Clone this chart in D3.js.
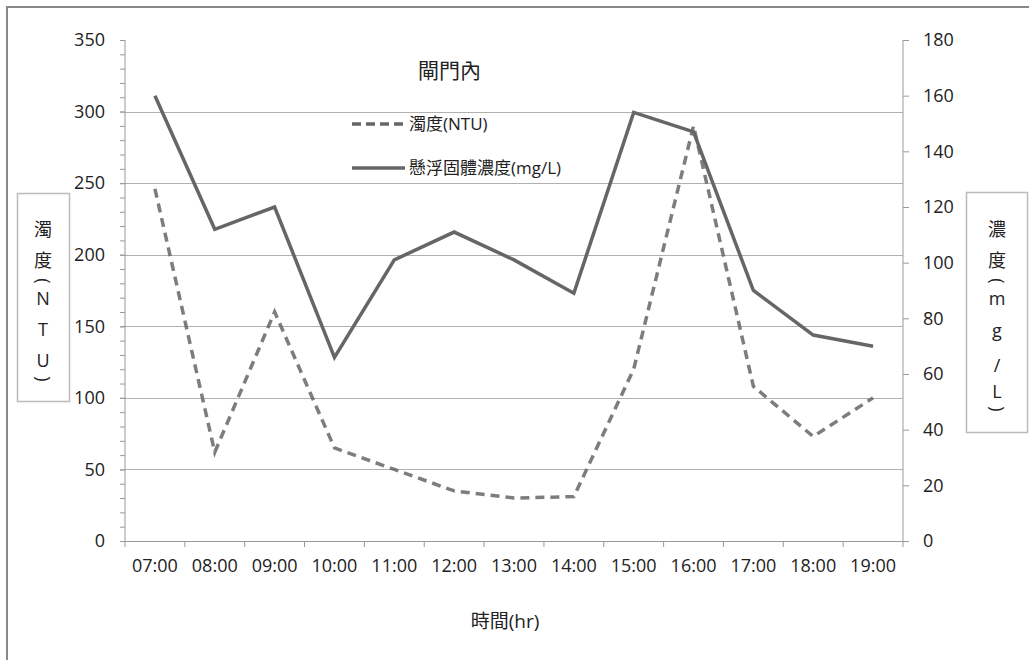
<!DOCTYPE html>
<html>
<head>
<meta charset="utf-8">
<script src="https://cdn.jsdelivr.net/npm/d3@7"></script>
<style>
  body { margin: 0; background: #fff; }
  text { font-family: "Open Sans", "Noto Sans CJK TC", sans-serif; fill: #222; }
</style>
</head>
<body>
<div id="chart"></div>
<script>
// hours along the x axis
const hours = ["07:00", "08:00", "09:00", "10:00", "11:00", "12:00", "13:00",
  "14:00", "15:00", "16:00", "17:00", "18:00", "19:00"];
// turbidity (NTU), left axis
const turbidity = [246, 62, 160, 65, 50, 35, 30, 31, 120, 290, 108, 73, 100];
// suspended solids (mg/L), right axis
const solids = [160, 112, 120, 66, 101, 111, 101, 89, 154, 147, 90, 74, 70];
const leftTicks = [0, 50, 100, 150, 200, 250, 300, 350];
const rightTicks = [0, 20, 40, 60, 80, 100, 120, 140, 160, 180];

const width = 1029, height = 660;
const plot = { left: 125, right: 903, top: 40, bottom: 541 };
const lineColor = "#666";

const svg = d3.select("#chart").append("svg")
  .attr("width", width).attr("height", height);

// outer frame (top + left edges visible)
svg.append("path")
  .attr("d", `M7,${height} V7 H${width}`)
  .attr("fill", "none").attr("stroke", "#888").attr("stroke-width", 2);

const x = d3.scaleBand().domain(hours).range([plot.left, plot.right]).padding(0);
const yL = d3.scaleLinear().domain([0, 350]).range([plot.bottom, plot.top]);
const yR = d3.scaleLinear().domain([0, 180]).range([plot.bottom, plot.top]);

// gridlines
svg.append("g").selectAll("line")
  .data(leftTicks.filter(d => d > 0 && d < 350))
  .join("line")
  .attr("x1", plot.left).attr("x2", plot.right)
  .attr("y1", d => Math.round(yL(d)) + 0.5).attr("y2", d => Math.round(yL(d)) + 0.5)
  .attr("stroke", "#b0b0b0");

// left axis with minor ticks
const gLeft = svg.append("g").attr("transform", `translate(${plot.left},0)`);
gLeft.call(d3.axisLeft(yL).tickValues(d3.range(0, 351, 10)).tickSize(5).tickFormat(""));
gLeft.append("g").call(d3.axisLeft(yL).tickValues(leftTicks).tickSize(5).tickPadding(15));
gLeft.selectAll(".domain").remove();
gLeft.append("line").attr("y1", plot.top).attr("y2", plot.bottom).attr("stroke", "#999");
gLeft.selectAll("line").attr("stroke", "#999");
gLeft.selectAll("text").attr("font-size", 18).attr("fill", "#222");

// right axis
const gRight = svg.append("g").attr("transform", `translate(${plot.right},0)`);
gRight.call(d3.axisRight(yR).tickValues(rightTicks).tickSize(6).tickPadding(14));
gRight.select(".domain").remove();
gRight.append("line").attr("y1", plot.top).attr("y2", plot.bottom).attr("stroke", "#999");
gRight.selectAll("line").attr("stroke", "#999");
gRight.selectAll("text").attr("font-size", 18).attr("fill", "#222");

// bottom axis: labels at band centres, ticks between bands
const gBottom = svg.append("g").attr("transform", `translate(0,${plot.bottom})`);
gBottom.call(d3.axisBottom(x).tickSize(0).tickPadding(18));
gBottom.select(".domain").remove();
gBottom.selectAll("text").attr("font-size", 18).attr("fill", "#222");
gBottom.append("line").attr("x1", plot.left).attr("x2", plot.right)
  .attr("y1", 0.5).attr("y2", 0.5).attr("stroke", "#999");
gBottom.selectAll(".sep")
  .data(hours.map(h => x(h)).concat([plot.right]))
  .join("line").attr("class", "sep")
  .attr("x1", d => d).attr("x2", d => d)
  .attr("y1", 0).attr("y2", 6).attr("stroke", "#999");

// series lines
const lineL = d3.line().x((d, i) => x(hours[i]) + x.bandwidth() / 2).y(d => yL(d));
const lineR = d3.line().x((d, i) => x(hours[i]) + x.bandwidth() / 2).y(d => yR(d));

svg.append("path").datum(turbidity)
  .attr("d", lineL).attr("fill", "none")
  .attr("stroke", lineColor).attr("stroke-width", 3.5)
  .attr("stroke-dasharray", "9,6").attr("opacity", 0.85);

svg.append("path").datum(solids)
  .attr("d", lineR).attr("fill", "none")
  .attr("stroke", lineColor).attr("stroke-width", 3.5)
  .attr("stroke-linejoin", "miter");

// title
svg.append("text").attr("x", 418).attr("y", 78)
  .attr("font-size", 21).attr("fill", "#444").text("閘門內");

// legend
const legend = [
  { label: "濁度(NTU)", dash: "9,5", y: 124 },
  { label: "懸浮固體濃度(mg/L)", dash: null, y: 168 }
];
const lg = svg.append("g").selectAll("g").data(legend).join("g");
lg.append("line")
  .attr("x1", 352).attr("x2", 405)
  .attr("y1", d => d.y).attr("y2", d => d.y)
  .attr("stroke", lineColor).attr("stroke-width", 3.5)
  .attr("stroke-dasharray", d => d.dash);
lg.append("text")
  .attr("x", 409).attr("y", d => d.y).attr("dy", "0.36em")
  .attr("font-size", 17).text(d => d.label);

// vertical axis titles in boxes, brackets turned sideways like the stacked text
function axisTitle(box, cx, chars) {
  svg.append("rect")
    .attr("x", box[0] + 0.5).attr("y", box[1] + 0.5)
    .attr("width", box[2]).attr("height", box[3])
    .attr("fill", "#fff").attr("stroke", "#bbb").attr("stroke-width", 1.5);
  svg.append("g").selectAll("text").data(chars).join("text")
    .attr("x", cx).attr("y", d => d[1]).attr("dy", "0.35em")
    .attr("text-anchor", "middle")
    .attr("font-size", 18)
    .attr("transform", d => "()".includes(d[0]) ? `rotate(90,${cx},${d[1]})` : null)
    .text(d => d[0]);
}
axisTitle([17, 193, 52, 208], 43,
  [["濁", 230], ["度", 261], ["(", 281], ["N", 299], ["T", 330], ["U", 361], [")", 379]]);
axisTitle([966, 192, 61, 240], 997,
  [["濃", 230], ["度", 261], ["(", 281], ["m", 299], ["g", 331], ["/", 366], ["L", 392], [")", 409]]);

// x axis title
svg.append("text").attr("x", 505).attr("y", 628)
  .attr("text-anchor", "middle").attr("font-size", 19).text("時間(hr)");
</script>
</body>
</html>
